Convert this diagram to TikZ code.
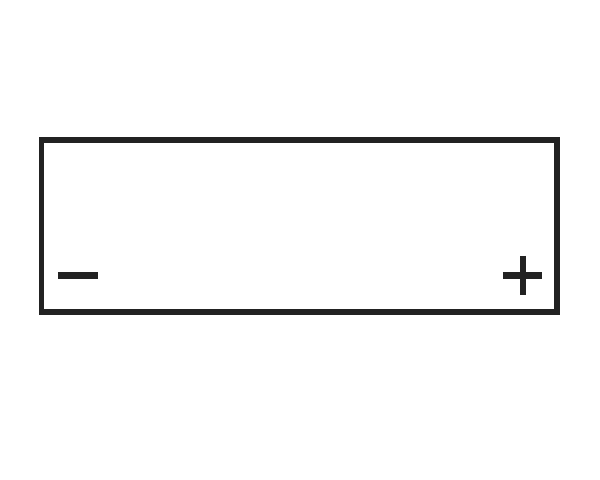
\documentclass[tikz,border=0pt]{standalone}
\usetikzlibrary{positioning}
\definecolor{inkgray}{HTML}{222222}

\begin{document}
\begin{tikzpicture}[x=0.02cm, y=-0.02cm, line width=3.3pt]
    \useasboundingbox (0,0) rectangle (600,480);
    \fill[white] (0,0) rectangle (600,480);

    % battery outline
    \draw[inkgray, line join=miter] (41.5,140) rectangle (557,312);

    % terminals
    \draw[inkgray, line width=3.8pt] (58,275.5) -- (98,275.5);
    \draw[inkgray, line width=3.8pt] (503,275.5) -- (542,275.5);
    \draw[inkgray, line width=3.8pt] (523,256) -- (523,295);
\end{tikzpicture}
\end{document}
